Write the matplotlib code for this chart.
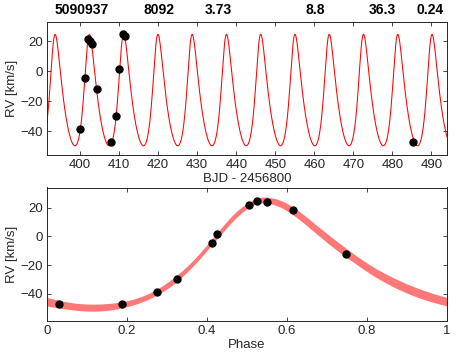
import numpy as np
import itertools
import matplotlib
matplotlib.use("Agg")
import matplotlib.pyplot as plt

plt.rcParams['font.family'] = ['Liberation Sans', 'DejaVu Sans']

# Header values shown above the top panel
title_vals = ["5090937", "8092", "3.73", "8.8", "36.3", "0.24"]

# Top panel: observations (BJD - 2456800, RV km/s)
t_obs = [400.0, 401.3, 402.0, 402.5, 403.1, 404.2, 408.0, 409.2, 410.05, 410.9, 411.4, 485.2]
rv_t = [-38.7, -4.8, 21.6, 20.5, 18.3, -11.8, -47.4, -29.7, 1.4, 25.0, 23.8, -47.4]

# Bottom panel: phase-folded observations
phase_obs = [0.031, 0.1875, 0.275, 0.324, 0.4125, 0.425, 0.504, 0.525, 0.551, 0.615, 0.7475]
rv_p = [-47.4, -47.4, -38.6, -29.8, -4.8, 1.7, 21.6, 24.9, 24.2, 18.3, -12.0]

# Keplerian orbit parameters (period, reference epoch, periastron phase, e, omega, K, gamma)
P_orb = 8.78
T_ref = 397.62
ph_peri = 0.49
ecc = 0.24
omega_deg = 330.0
K_amp = 37.3
gamma = -20.3
# half-ranges of the parameter grid used for the model band
d_ecc = 0.08
d_omega_deg = 20.0
d_ph = 0.03
d_K = 2.5
d_gamma = 2.5
chi_tol = 15.0


def kep(ph, php, e, w, K, g):
    M = 2 * np.pi * (np.asarray(ph) - php)
    E = M.copy()
    for _ in range(40):
        E = E - (E - e * np.sin(E) - M) / (1 - e * np.cos(E))
    nu = 2 * np.arctan2(np.sqrt(1 + e) * np.sin(E / 2), np.sqrt(1 - e) * np.cos(E / 2))
    return g + K * (np.cos(nu + w) + e * np.cos(w))


fig = plt.figure(figsize=(4.71, 3.53), dpi=100)
ax1 = fig.add_axes([47 / 471, 1 - 155 / 353, 400 / 471, 133 / 353])
ax2 = fig.add_axes([47 / 471, 1 - 321 / 353, 400 / 471, 133.5 / 353])

# ---- top panel
tt = np.linspace(391.5, 494, 4000)
phase_t = ((tt - T_ref) / P_orb) % 1
model_t = kep(phase_t, ph_peri, ecc, np.radians(omega_deg), K_amp, gamma)
ax1.plot(tt, model_t, color='#ff0000', lw=0.75, zorder=2)
ax1.plot(t_obs, rv_t, 'o', color='black', ms=5, zorder=3)
ax1.set_xlim(391.5, 494)
ax1.set_ylim(-56, 33)
ax1.set_xticks(np.arange(400, 491, 10))
ax1.set_yticks([-40, -20, 0, 20])
ax1.set_xlabel('BJD - 2456800', fontsize=9.5, labelpad=1, color='#262626')
ax1.set_ylabel('RV [km/s]', fontsize=9.5, labelpad=2, color='#262626')

# ---- bottom panel: band = envelope of orbit models on a parameter grid that fit the data
ph = np.linspace(0, 1, 400)
phd = np.asarray(phase_obs)
rvd = np.asarray(rv_p)
n = 9
grid = itertools.product(np.linspace(-d_ecc, d_ecc, n), np.linspace(-d_omega_deg, d_omega_deg, n),
                         np.linspace(-d_ph, d_ph, n))
kk = K_amp + np.linspace(-d_K, d_K, n)
gg = gamma + np.linspace(-d_gamma, d_gamma, n)
KK, GG = np.meshgrid(kk, gg)
KK = KK.ravel()
GG = GG.ravel()
best = np.inf
accepted = []
for de, dw, dp in grid:
    e_ = ecc + de
    w_ = np.radians(omega_deg + dw)
    p_ = ph_peri + dp
    base = kep(phd, p_, e_, w_, 1.0, 0.0)
    chi = ((GG[:, None] + KK[:, None] * base[None, :] - rvd[None, :]) ** 2).sum(axis=1)
    best = min(best, chi.min())
    accepted.append((p_, e_, w_, chi))
lo = np.full_like(ph, np.inf)
hi = np.full_like(ph, -np.inf)
for p_, e_, w_, chi in accepted:
    ok = chi <= best + chi_tol
    if ok.any():
        b = kep(ph, p_, e_, w_, 1.0, 0.0)
        c = GG[ok][:, None] + KK[ok][:, None] * b[None, :]
        lo = np.minimum(lo, c.min(axis=0))
        hi = np.maximum(hi, c.max(axis=0))
ax2.fill_between(ph, lo, hi, color='#ff7878', lw=0, zorder=1)
ax2.plot(phase_obs, rv_p, 'o', color='black', ms=5, zorder=3)
ax2.set_xlim(0, 1)
ax2.set_ylim(-59, 34)
ax2.set_xticks([0, 0.2, 0.4, 0.6, 0.8, 1])
ax2.set_xticklabels(['0', '0.2', '0.4', '0.6', '0.8', '1'])
ax2.set_yticks([-40, -20, 0, 20])
ax2.set_xlabel('Phase', fontsize=9.5, labelpad=1, color='#262626')
ax2.set_ylabel('RV [km/s]', fontsize=9.5, labelpad=2, color='#262626')

for ax in (ax1, ax2):
    ax.tick_params(direction='in', top=True, right=True, length=3, width=0.6,
                   labelsize=9.5, pad=3, colors='#262626')
    for s in ax.spines.values():
        s.set_linewidth(0.7)
        s.set_color('#262626')

# header numbers
xs = [82, 159, 218, 315, 382, 430]
for x, s in zip(xs, title_vals):
    fig.text(x / 471, 1 - 10.5 / 353, s, ha='center', va='center', fontsize=10, fontweight='bold')

fig.savefig("out.png", dpi=100)
